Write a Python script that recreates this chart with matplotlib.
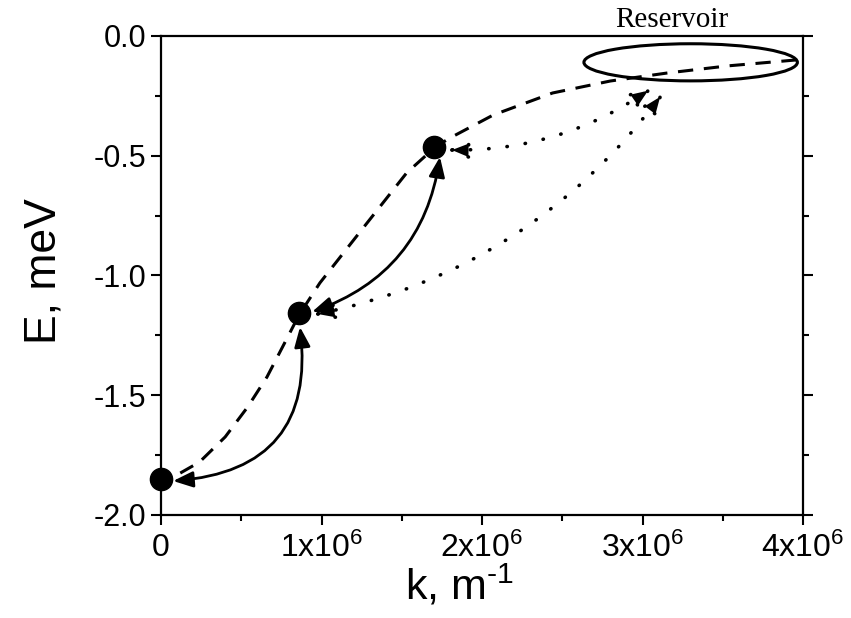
import numpy as np
import matplotlib.pyplot as plt
from matplotlib.patches import Ellipse, FancyArrowPatch
from matplotlib.ticker import MultipleLocator

plt.rcParams['font.family'] = ['Liberation Sans', 'DejaVu Sans']
plt.rcParams['mathtext.fontset'] = 'custom'
plt.rcParams['mathtext.rm'] = 'Liberation Sans'
plt.rcParams['mathtext.it'] = 'Liberation Sans'

# polariton states (k in 1/m, E in meV)
state_k = [0.0, 0.86e6, 1.70e6]
state_E = [-1.85, -1.155, -0.465]

# reservoir region
res_k, res_E = 3.30e6, -0.11
res_width, res_height = 1.33e6, 0.155

# dispersion guide (dashed)
disp_k = [3.96e6, 3.53e6, 3.15e6, 2.80e6, 2.44e6, 2.07e6, 1.80e6, 1.71e6,
          1.53e6, 1.24e6, 0.99e6, 0.86e6, 0.77e6, 0.66e6, 0.54e6, 0.40e6,
          0.24e6, 0.12e6]
disp_E = [-0.100, -0.125, -0.155, -0.188, -0.238, -0.330, -0.426, -0.463,
          -0.572, -0.818, -1.031, -1.165, -1.282, -1.424, -1.549, -1.674,
          -1.779, -1.825]

# scattering arrows: (start k, start E, end k, end E, curvature)
solid_arrows = [
    (0.075e6, -1.858, 0.866e6, -1.215, 0.52),
    (0.941e6, -1.152, 1.738e6, -0.505, 0.30),
]
dotted_arrows = [
    (1.782e6, -0.476, 3.059e6, -0.217, 0.16),
    (0.947e6, -1.165, 3.128e6, -0.238, 0.19),
]

fig = plt.figure(figsize=(8.51, 6.18), dpi=100)
ax = fig.add_axes([0.1892, 0.1667, 0.7544, 0.7751])

ax.plot(disp_k, disp_E, color='black', lw=2.2, dashes=(5, 3.5))
ax.plot(state_k, state_E, 'o', color='black', ms=16, clip_on=False, zorder=5)

ax.add_patch(Ellipse((res_k, res_E), res_width, res_height, fill=False,
                     edgecolor='black', lw=2.2, zorder=4))
ax.text(res_k - 0.12e6, 0.012, 'Reservoir', family='Liberation Serif',
        fontsize=21, ha='center', va='bottom')

style = '<|-|>,head_length=0.6,head_width=0.24'
for k0, e0, k1, e1, rad in solid_arrows:
    ax.add_patch(FancyArrowPatch((k0, e0), (k1, e1), arrowstyle=style,
                                 connectionstyle=f'arc3,rad={rad}',
                                 mutation_scale=20, lw=2.0, color='black',
                                 shrinkA=0, shrinkB=0, zorder=6))
for k0, e0, k1, e1, rad in dotted_arrows:
    arr = FancyArrowPatch((k0, e0), (k1, e1), arrowstyle=style,
                          connectionstyle=f'arc3,rad={rad}',
                          mutation_scale=20, lw=2.6, color='black',
                          linestyle=(0, (0.1, 5)), shrinkA=0, shrinkB=0,
                          zorder=6)
    arr.set_capstyle('round')
    ax.add_patch(arr)

ax.set_xlim(0, 4e6)
ax.set_ylim(-2.0, 0.0)
ax.set_xticks([0, 1e6, 2e6, 3e6, 4e6])
ax.set_xticklabels(['0', r'1x10$^6$', r'2x10$^6$', r'3x10$^6$', r'4x10$^6$'])
ax.xaxis.set_minor_locator(MultipleLocator(0.5e6))
ax.yaxis.set_major_locator(MultipleLocator(0.5))
ax.yaxis.set_minor_locator(MultipleLocator(0.25))
ax.yaxis.set_major_formatter(plt.FormatStrFormatter('%.1f'))

ax.tick_params(which='both', direction='out', width=1.5,
               right=True, top=False)
ax.tick_params(axis='y', labelsize=22)
ax.tick_params(axis='x', labelsize=23, pad=6)
ax.tick_params(which='major', length=7)
ax.tick_params(which='minor', length=4)
for sp in ax.spines.values():
    sp.set_linewidth(1.6)

ax.set_xlabel('k, m$^{\u2010\\mathregular{1}}$', fontsize=31)
ax.xaxis.set_label_coords(0.465, -0.1)
ax.set_ylabel('E, meV', fontsize=32)
ax.yaxis.set_label_coords(-0.15, 0.51)

fig.savefig('out.png', dpi=100)
